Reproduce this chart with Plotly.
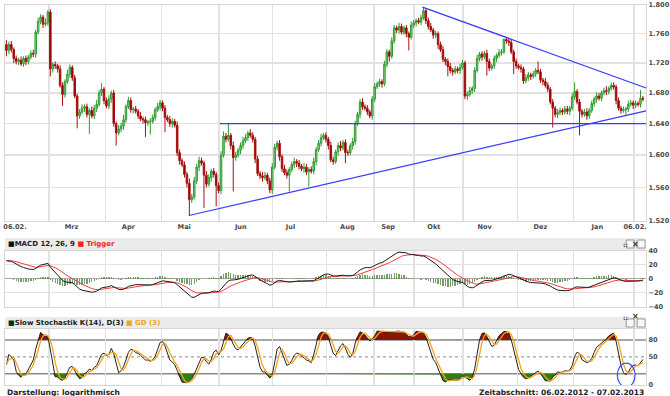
import numpy as np
import pandas as pd
import plotly.graph_objects as go

# ---------------- data ----------------
first_open = 1.745
closes = [
    1.737, 1.745, 1.738, 1.726, 1.722, 1.724, 1.719, 1.726, 1.722, 1.728,
    1.733, 1.732, 1.762, 1.777, 1.783, 1.773, 1.775, 1.790, 1.712, 1.718,
    1.716, 1.712, 1.690, 1.678, 1.695, 1.705, 1.714, 1.700, 1.676, 1.650,
    1.655, 1.660, 1.662, 1.652, 1.657, 1.650, 1.660, 1.665, 1.680, 1.685,
    1.670, 1.663, 1.672, 1.680, 1.640, 1.628, 1.633, 1.637, 1.645, 1.662,
    1.670, 1.658, 1.659, 1.656, 1.650, 1.646, 1.645, 1.641, 1.642, 1.643,
    1.648, 1.658, 1.662, 1.667, 1.660, 1.648, 1.645, 1.640, 1.643, 1.638,
    1.603, 1.593, 1.588, 1.576, 1.565, 1.545, 1.548, 1.568, 1.585, 1.593,
    1.590, 1.575, 1.564, 1.572, 1.580, 1.576, 1.562, 1.556, 1.600, 1.624,
    1.620, 1.625, 1.612, 1.597, 1.600, 1.606, 1.612, 1.618, 1.622, 1.628,
    1.625, 1.620, 1.595, 1.577, 1.574, 1.572, 1.575, 1.568, 1.557, 1.585,
    1.610, 1.615, 1.598, 1.583, 1.578, 1.575, 1.582, 1.588, 1.592, 1.590,
    1.586, 1.583, 1.585, 1.579, 1.582, 1.580, 1.592, 1.607, 1.615, 1.622,
    1.625, 1.620, 1.612, 1.594, 1.592, 1.604, 1.612, 1.609, 1.616, 1.603,
    1.603, 1.612, 1.617, 1.640, 1.652, 1.668, 1.662, 1.660, 1.655, 1.650,
    1.672, 1.688, 1.692, 1.695, 1.692, 1.718, 1.735, 1.729, 1.750, 1.768,
    1.765, 1.770, 1.762, 1.768, 1.760, 1.755, 1.772, 1.775, 1.778, 1.776,
    1.782, 1.792, 1.778, 1.770, 1.765, 1.758, 1.760, 1.745, 1.738, 1.725,
    1.722, 1.715, 1.710, 1.708, 1.712, 1.710, 1.714, 1.720, 1.676, 1.678,
    1.683, 1.686, 1.710, 1.726, 1.732, 1.728, 1.733, 1.722, 1.713, 1.716,
    1.726, 1.730, 1.734, 1.735, 1.752, 1.750, 1.748, 1.735, 1.722, 1.716,
    1.714, 1.712, 1.696, 1.700, 1.704, 1.702, 1.705, 1.710, 1.708, 1.697,
    1.695, 1.690, 1.685, 1.668, 1.660, 1.652, 1.654, 1.657, 1.655, 1.659,
    1.656, 1.660, 1.675, 1.682, 1.668, 1.656, 1.652, 1.655, 1.650, 1.657,
    1.666, 1.672, 1.676, 1.673, 1.680, 1.683, 1.682, 1.686, 1.690, 1.688,
    1.670, 1.660, 1.657, 1.658, 1.659, 1.665, 1.667, 1.664, 1.666, 1.665,
    1.673, 1.672,
]
wick_unit = 0.001
upper_wick = [
    6, 4, 5, 3, 4, 3, 5, 3, 4, 3,  4, 5, 3, 5, 4, 3, 6, 3, 4, 3,
    4, 3, 5, 4, 3, 6, 4, 3, 4, 3,  4, 5, 3, 4, 3, 5, 4, 6, 4, 8,
    3, 4, 5, 3, 4, 3, 5, 4, 6, 3,  5, 4, 3, 4, 3, 5, 3, 4, 3, 4,
    4, 3, 5, 4, 3, 4, 3, 5, 4, 3,  5, 4, 3, 4, 3, 6, 4, 5, 4, 5,
    4, 3, 5, 4, 3, 4, 3, 4, 5, 6,  4, 15, 3, 5, 4, 3, 4, 5, 4, 3,
    5, 4, 3, 4, 3, 5, 4, 3, 4, 5,  4, 3, 4, 3, 5, 4, 3, 4, 5, 3,
    4, 3, 5, 4, 3, 4, 5, 3, 4, 5,  3, 4, 3, 5, 4, 3, 4, 6, 3, 4,
    4, 3, 5, 4, 3, 4, 5, 3, 4, 3,  4, 5, 3, 4, 3, 5, 4, 3, 5, 4,
    3, 5, 4, 3, 4, 3, 5, 4, 3, 4,  4, 5, 3, 4, 5, 3, 4, 3, 4, 5,
    3, 4, 5, 3, 4, 3, 5, 4, 3, 4,  5, 3, 4, 5, 3, 4, 3, 5, 4, 3,
    4, 3, 5, 4, 1, 3, 4, 5, 3, 4,  3, 4, 3, 5, 4, 3, 4, 3, 12, 4,
    3, 5, 4, 3, 4, 3, 5, 4, 3, 4,  4, 3, 5, 12, 3, 4, 3, 4, 5, 3,
    4, 3, 5, 4, 3, 4, 6, 3, 4, 4,  3, 4, 3, 4, 3, 5, 4, 3, 4, 3,
    11, 3,
]
lower_wick = [
    8, 5, 4, 6, 4, 5, 3, 4, 5, 4,  3, 4, 5, 3, 4, 5, 3, 4, 10, 5,
    4, 5, 3, 15, 4, 3, 5, 4, 3, 16,  4, 3, 5, 4, 25, 3, 4, 5, 3, 4,
    5, 3, 4, 5, 4, 16, 3, 4, 5, 4,  3, 4, 5, 3, 4, 3, 5, 18, 4, 16,
    3, 4, 3, 5, 4, 19, 3, 4, 5, 3,  4, 5, 3, 4, 5, 19, 4, 3, 4, 5,
    3, 40, 4, 3, 5, 4, 25, 3, 4, 3,  4, 3, 5, 42, 4, 3, 5, 4, 3, 4,
    3, 4, 5, 3, 4, 5, 3, 4, 4, 5,  3, 4, 5, 4, 3, 4, 20, 3, 4, 5,
    4, 3, 5, 4, 18, 3, 4, 5, 3, 4,  3, 4, 5, 3, 4, 3, 5, 4, 3, 13,
    4, 3, 5, 4, 3, 5, 4, 3, 4, 3,  5, 4, 3, 4, 5, 3, 4, 7, 3, 4,
    4, 5, 3, 4, 5, 18, 3, 4, 5, 3,  4, 3, 5, 4, 3, 5, 4, 6, 3, 4,
    5, 13, 4, 5, 3, 4, 5, 3, 4, 5,  3, 4, 5, 3, 4, 5, 3, 19, 4, 3,
    4, 5, 3, 4, 3, 4, 5, 3, 17, 4,  3, 5, 4, 3, 4, 5, 3, 4, 3, 4,
    5, 3, 4, 3, 25, 4, 5, 3, 4, 3,  4, 5, 3, 4, 3, 31, 4, 3, 5, 4,
    3, 4, 5, 3, 4, 3, 5, 4, 3, 4,  5, 3, 4, 3, 8, 4, 3, 5, 4, 3,
    4, 3,
]

# x-axis labels / grid positions (trading-day index)
axis_label_days = [3.5, 26.7, 50.0, 72.9, 96.1, 116.5, 139.8, 156.5, 175.3, 196.1, 219.0, 242.3, 257.8]
axis_labels = ["06.02.", "Mrz", "Apr", "Mai", "Jun", "Jul", "Aug", "Sep", "Okt", "Nov", "Dez", "Jan", "06.02."]
grid_days = [17.4, 40.6, 63.5, 87.2, 109.2, 131.2, 150.8, 167.2, 187.2, 209.6, 232.5, 257.4]
x_range = [-0.6, 262.3]

price_ticks = [1.52, 1.56, 1.60, 1.64, 1.68, 1.72, 1.76, 1.80]
price_tick_text = ["1.520", "1.560", "1.600", "1.640", "1.680", "1.720", "1.760", "1.800"]
macd_ticks = [-40, -20, 0, 20, 40]
stoch_ticks = [0, 50, 80]
stoch_levels = [20, 50, 80]

# drawn chart lines (day index, price)
level_days, level_prices = [87.5, 262.3], [1.640, 1.640]
support_days, support_prices = [74.8, 262.3], [1.526, 1.6566]
resist_days, resist_prices = [170.6, 262.3], [1.797, 1.6866]

# indicator settings / starting state
macd_unit = 0.001
ema_fast_gap, ema_slow_gap = 0.019, 0.045
trigger_start = 26.0
highlight_days, highlight_vals = [250.5, 257.8], [-3.6, 39.0]

# ---------------- derived series ----------------
n = len(closes)
days = np.arange(n)
c = np.array(closes)
o = np.concatenate([[first_open], c[:-1]])
h = np.maximum(o, c) + np.array(upper_wick) * wick_unit
l = np.minimum(o, c) - np.array(lower_wick) * wick_unit


def ema(values, span, seed):
    a = 2.0 / (span + 1)
    out = np.empty(len(values))
    prev = seed
    for i, v in enumerate(values):
        prev = prev + a * (v - prev)
        out[i] = prev
    return out


ema12 = ema(c, 12, c[0] - ema_fast_gap)
ema26 = ema(c, 26, c[0] - ema_slow_gap)
macd = (ema12 - ema26) / macd_unit
trigger = ema(macd, 9, trigger_start)
hist = macd - trigger

fast_k = np.array([
    100 * (c[i] - l[max(0, i - 13):i + 1].min()) /
    (h[max(0, i - 13):i + 1].max() - l[max(0, i - 13):i + 1].min())
    for i in range(n)
])
slow_k = pd.Series(fast_k).rolling(3, min_periods=1).mean().values
gd = pd.Series(slow_k).rolling(3, min_periods=1).mean().values

# ---------------- figure ----------------
W, H = 670, 396
FONT = "DejaVu Sans"


def py(px):
    return 1 - px / H


def pxx(px):
    return px / W


fig = go.Figure()

fig.add_trace(go.Candlestick(
    x=days, open=o, high=h, low=l, close=c, xaxis="x", yaxis="y",
    increasing=dict(line=dict(color="#2f9a2f", width=1), fillcolor="#8fd08f"),
    decreasing=dict(line=dict(color="#a81010", width=1), fillcolor="#8b0000"),
    whiskerwidth=0, showlegend=False, hoverinfo="skip"))

line_style = dict(color="#3a3aff", width=1.2)
for xs, ys in [(level_days, level_prices), (support_days, support_prices), (resist_days, resist_prices)]:
    fig.add_trace(go.Scatter(x=xs, y=ys, mode="lines", line=line_style, xaxis="x", yaxis="y",
                             showlegend=False, hoverinfo="skip", cliponaxis=False))

# MACD panel
fig.add_trace(go.Bar(x=days, y=hist, marker=dict(color="#5d8f4f", line=dict(width=0)), width=0.55,
                     opacity=0.85, xaxis="x2", yaxis="y2", showlegend=False, hoverinfo="skip"))
fig.add_trace(go.Scatter(x=days, y=trigger, mode="lines", line=dict(color="#ff3a3a", width=1),
                         xaxis="x2", yaxis="y2", showlegend=False, hoverinfo="skip"))
fig.add_trace(go.Scatter(x=days, y=macd, mode="lines", line=dict(color="#1a1a1a", width=1),
                         xaxis="x2", yaxis="y2", showlegend=False, hoverinfo="skip"))

# Stochastic panel
fig.add_trace(go.Scatter(x=days, y=np.full(n, stoch_levels[2]), mode="lines", line=dict(width=0),
                         xaxis="x3", yaxis="y3", showlegend=False, hoverinfo="skip"))
fig.add_trace(go.Scatter(x=days, y=np.maximum(slow_k, stoch_levels[2]), mode="lines", line=dict(width=0),
                         fill="tonexty", fillcolor="#8b1500", xaxis="x3", yaxis="y3",
                         showlegend=False, hoverinfo="skip"))
fig.add_trace(go.Scatter(x=days, y=np.full(n, stoch_levels[0]), mode="lines", line=dict(width=0),
                         xaxis="x3", yaxis="y3", showlegend=False, hoverinfo="skip"))
fig.add_trace(go.Scatter(x=days, y=np.minimum(slow_k, stoch_levels[0]), mode="lines", line=dict(width=0),
                         fill="tonexty", fillcolor="#2f7d14", xaxis="x3", yaxis="y3",
                         showlegend=False, hoverinfo="skip"))
fig.add_trace(go.Scatter(x=days, y=slow_k, mode="lines", line=dict(color="#222222", width=1),
                         xaxis="x3", yaxis="y3", showlegend=False, hoverinfo="skip"))
fig.add_trace(go.Scatter(x=days, y=gd, mode="lines", line=dict(color="#f5a31a", width=1.3),
                         xaxis="x3", yaxis="y3", showlegend=False, hoverinfo="skip"))

xdom = [pxx(3), pxx(647)]
grid_col = "#e2e2e2"
frame_col = "#d6d6d6"
tick_font = dict(family=FONT, size=6.6, color="#4a4a4a", weight="bold")
minor_grid = dict(tickmode="array", tickvals=grid_days, showgrid=True, gridcolor=grid_col,
                  gridwidth=1.5, ticks="")

common_x = dict(range=x_range, domain=xdom, showgrid=False, zeroline=False, showline=True,
                mirror=True, linecolor=frame_col, linewidth=1, ticks="", minor=minor_grid,
                fixedrange=True)

fig.update_layout(
    width=W, height=H, margin=dict(l=0, r=0, t=0, b=0),
    paper_bgcolor="white", plot_bgcolor="white", showlegend=False,
    bargap=0, boxgap=0.12,
    xaxis=dict(**common_x, anchor="y", tickmode="array", tickvals=axis_label_days,
               ticktext=axis_labels, tickfont=tick_font, rangeslider=dict(visible=False)),
    xaxis2=dict(**common_x, anchor="y2", showticklabels=False),
    xaxis3=dict(**common_x, anchor="y3", showticklabels=False),
    yaxis=dict(type="log", range=[np.log10(1.52), np.log10(1.80)],
               domain=[py(220.5), py(5)], anchor="x", side="right",
               tickmode="array", tickvals=price_ticks, ticktext=price_tick_text,
               tickfont=tick_font, showgrid=True, gridcolor=grid_col, gridwidth=1.5,
               zeroline=False, showline=True, mirror=True, linecolor=frame_col, ticks="",
               automargin=False, fixedrange=True),
    yaxis2=dict(range=[-40, 40], domain=[py(306.7), py(250.7)], anchor="x2", side="right",
                tickmode="array", tickvals=macd_ticks, tickfont=tick_font,
                showgrid=True, gridcolor=grid_col, gridwidth=1.5,
                zeroline=True, zerolinecolor="#a8a8a8", zerolinewidth=1.5,
                showline=True, mirror=True, linecolor=frame_col, ticks="",
                automargin=False, fixedrange=True),
    yaxis3=dict(range=[0, 100], domain=[py(385), py(328.8)], anchor="x3", side="right",
                tickmode="array", tickvals=stoch_ticks, tickfont=tick_font,
                showgrid=False, zeroline=False,
                showline=True, mirror=True, linecolor=frame_col, ticks="",
                automargin=False, fixedrange=True),
)

shapes = []
# stochastic reference levels
for lv in stoch_levels:
    dotted = lv == 50
    shapes.append(dict(type="line", xref="x3 domain", yref="y3", x0=0, x1=1, y0=lv, y1=lv,
                       line=dict(color="#8a8a8a", width=1 if dotted else 1.5,
                                 dash="dot" if dotted else "solid"), layer="below"))
# panel header bars
for top, bot in [(238, 250), (317, 328.5)]:
    shapes.append(dict(type="rect", xref="paper", yref="paper", x0=pxx(3), x1=pxx(647),
                       y0=py(bot), y1=py(top), fillcolor="#ebebeb", line=dict(width=0), layer="below"))
    for x0 in (627, 638):
        shapes.append(dict(type="rect", xref="paper", yref="paper", x0=pxx(x0), x1=pxx(x0 + 8),
                           y0=py(top + 10), y1=py(top + 2), fillcolor="#f8f8f8",
                           line=dict(color="#9a9a9a", width=1)))
# highlight circle
shapes.append(dict(type="circle", xref="x3", yref="y3", x0=highlight_days[0], x1=highlight_days[1],
                   y0=highlight_vals[0], y1=highlight_vals[1], line=dict(color="#3c4cff", width=1.2)))
fig.update_layout(shapes=shapes)

ann_font = dict(family=FONT, size=7.5, color="#222222", weight="bold")
head_font = dict(family=FONT, size=7, color="#222222", weight="bold")
annotations = [
    dict(xref="paper", yref="paper", x=pxx(4), y=py(244), xanchor="left", yanchor="middle",
         showarrow=False, font=head_font,
         text='<span style="color:#111">■</span>MACD 12, 26, 9 <span style="color:#ff2020">■ Trigger</span>'),
    dict(xref="paper", yref="paper", x=pxx(4), y=py(323), xanchor="left", yanchor="middle",
         showarrow=False, font=head_font,
         text='<span style="color:#0c300c">■</span>Slow Stochastik K(14), D(3) '
              '<span style="color:#f5a31a">■ GD (3)</span>'),
    dict(xref="paper", yref="paper", x=pxx(3), y=py(392), xanchor="left", yanchor="middle",
         showarrow=False, font=ann_font, text="Darstellung: logarithmisch"),
    dict(xref="paper", yref="paper", x=pxx(647), y=py(392), xanchor="right", yanchor="middle",
         showarrow=False, font=ann_font, text="Zeitabschnitt: 06.02.2012 - 07.02.2013"),
]
for top in (238, 317):
    annotations.append(dict(xref="paper", yref="paper", x=pxx(631), y=py(top + 6), showarrow=False,
                            text="::", font=dict(family=FONT, size=6, color="#333", weight="bold")))
    annotations.append(dict(xref="paper", yref="paper", x=pxx(642), y=py(top + 6), showarrow=False,
                            text="×", font=dict(family=FONT, size=8, color="#333", weight="bold")))
fig.update_layout(annotations=annotations)

fig.write_html("out.html", config={"displayModeBar": False, "staticPlot": True},
               post_script="document.body.style.margin='0';document.body.style.padding='0';")
